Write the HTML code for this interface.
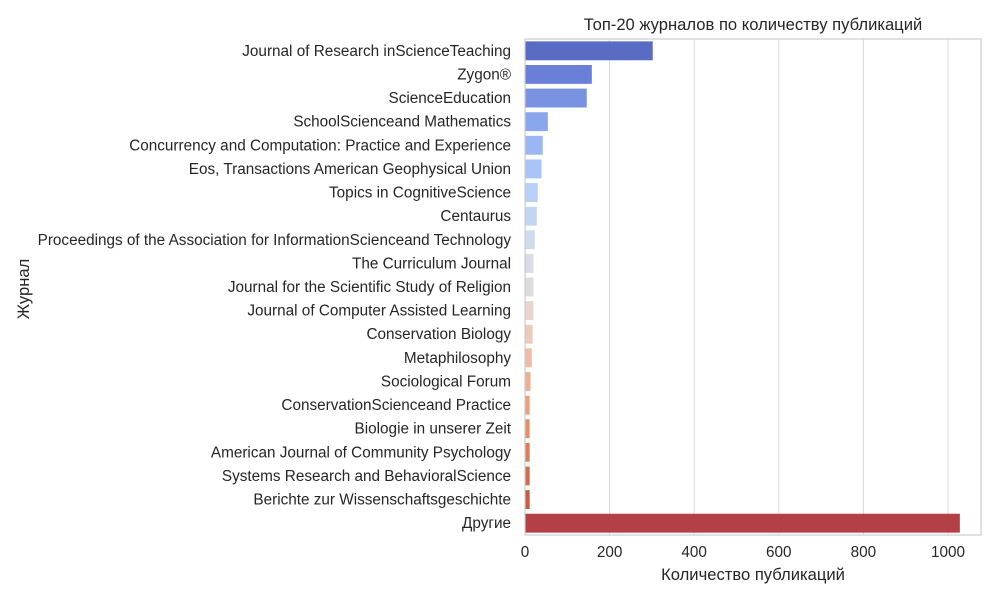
<!DOCTYPE html>
<html><head><meta charset="utf-8"><style>
body{margin:0;background:#fff;font-family:"Liberation Sans","DejaVu Sans",sans-serif}
</style></head><body>
<svg id="chart" width="1000" height="600" font-family="Liberation Sans, DejaVu Sans, sans-serif"></svg>
<script>
const categories=["Journal of Research inScienceTeaching","Zygon®","ScienceEducation","SchoolScienceand Mathematics","Concurrency and Computation: Practice and Experience","Eos, Transactions American Geophysical Union","Topics in CognitiveScience","Centaurus","Proceedings of the Association for InformationScienceand Technology","The Curriculum Journal","Journal for the Scientific Study of Religion","Journal of Computer Assisted Learning","Conservation Biology","Metaphilosophy","Sociological Forum","ConservationScienceand Practice","Biologie in unserer Zeit","American Journal of Community Psychology","Systems Research and BehavioralScience","Berichte zur Wissenschaftsgeschichte","Другие"];
const values=[302,158,146,54,42,39,30,28,23,20,20,20,18,16,13,11,11,11,11,11,1028];
const xTicks=[0,200,400,600,800,1000];
const colors=["#5a6bc4","#6a80d8","#7993e2","#8aa6ec","#9bb7f3","#a9c4f7","#b8cff8","#c4d5f3","#cfdaec","#d8dce4","#dedcdb","#e6d5cf","#ecc9bb","#efbca6","#eeaf92","#eaa07e","#e38f6c","#dc7e5c","#d26c4e","#c65a44","#b34044"];
const svg=document.getElementById('chart');const NS='http://www.w3.org/2000/svg';
const L=525,R=981,T=39,B=535;
const xs=v=>L+v*(948-L)/1000;
const step=(B-T)/categories.length;
function mk(t,a,p){const e=document.createElementNS(NS,t);for(const k in a)e.setAttribute(k,a[k]);(p||svg).appendChild(e);return e;}
xTicks.forEach((t,i)=>{
 const g=mk('line',{x1:xs(t),x2:xs(t),y1:T,y2:B,stroke:'#d9d9d9','stroke-width':1});
 
 
 const tx=mk('text',{x:xs(t),y:557,'text-anchor':'middle','font-size':15.3,fill:'#262626'});tx.textContent=t;
 
 
});
categories.forEach((c,i)=>{
 const cy=T+step*(i+0.5);
 const b=mk('rect',{x:L,y:cy-step*0.4,width:xs(values[i])-L,height:step*0.8,fill:colors[i]});
 
 
 const tx=mk('text',{x:L-14,y:cy+5,'text-anchor':'end','font-size':15.3,fill:'#262626'});tx.textContent=c;
 
 
});
const fr=mk('rect',{x:L,y:T,width:R-L,height:B-T,fill:'none',stroke:'#cccccc','stroke-width':1.2});


const ti=mk('text',{x:(L+R)/2+0,y:30,'text-anchor':'middle','font-size':16.6,fill:'#262626'});ti.textContent='Топ-20 журналов по количеству публикаций';


const xt=mk('text',{x:(L+R)/2,y:580,'text-anchor':'middle','font-size':16.6,fill:'#262626'});xt.textContent='Количество публикаций';


const yt=mk('text',{x:0,y:0,'text-anchor':'middle','font-size':16.6,fill:'#262626',transform:'translate(29,289) rotate(-90)'});yt.textContent='Журнал';


</script>
</body></html>
